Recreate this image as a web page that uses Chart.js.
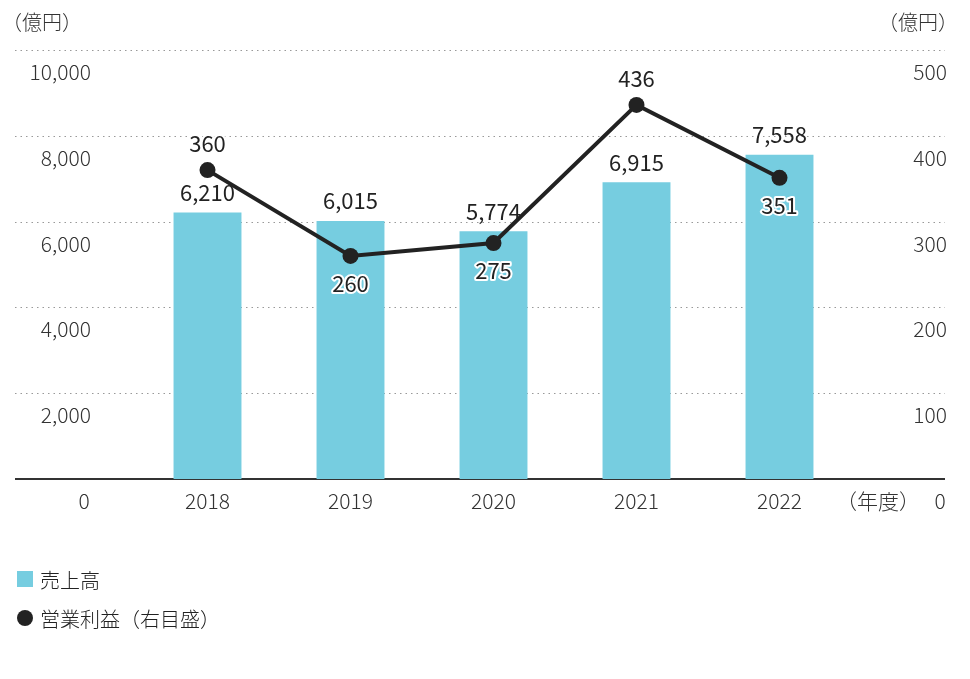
<!DOCTYPE html>
<html>
<head>
<meta charset="utf-8">
<script src="https://cdn.jsdelivr.net/npm/chart.js@4/dist/chart.umd.min.js"></script>
<style>body{margin:0;background:#fff}</style>
</head>
<body>
<canvas id="chartArea" width="970" height="679"></canvas>
<script>
const years = ['2018', '2019', '2020', '2021', '2022'];
const sales = [6210, 6015, 5774, 6915, 7558];
const profit = [360, 260, 275, 436, 351];
const profitLabelAbove = [true, false, false, true, false];
const leftTicks = [0, 2000, 4000, 6000, 8000, 10000];
const rightTicks = [0, 100, 200, 300, 400, 500];

const FONT = '"Noto Sans CJK JP", "Noto Sans", sans-serif';

// gridlines, tick labels, value labels, legend
const decor = {
  id: 'decor',
  beforeDatasetsDraw(chart) {
    const c = chart.ctx, y = chart.scales.y, y1 = chart.scales.y1;
    c.save();
    c.strokeStyle = '#999';
    c.lineWidth = 1.2;
    c.setLineDash([1.5, 4]);
    for (const v of leftTicks.slice(1)) {
      const py = Math.round(y.getPixelForValue(v)) + 0.5;
      c.beginPath(); c.moveTo(15, py); c.lineTo(945, py); c.stroke();
    }
    c.setLineDash([]);
    c.strokeStyle = '#333';
    c.lineWidth = 2;
    const py0 = y.getPixelForValue(0);
    c.beginPath(); c.moveTo(15, py0); c.lineTo(945, py0); c.stroke();
    c.restore();
  },
  afterDatasetsDraw(chart) {
    const c = chart.ctx, x = chart.scales.x, y = chart.scales.y, y1 = chart.scales.y1;
    c.save();
    c.fillStyle = '#333';
    c.font = '300 21px ' + FONT;
    c.textBaseline = 'middle';
    c.textAlign = 'right';
    leftTicks.forEach(v => {
      if (v === 0) return;
      c.fillText(v.toLocaleString('en-US'), 91, y.getPixelForValue(v) + 22);
    });
    rightTicks.forEach(v => {
      if (v === 0) return;
      c.fillText(String(v), 947, y1.getPixelForValue(v) + 22);
    });
    const ly = y.getPixelForValue(0) + 22;
    c.textAlign = 'center';
    c.fillText('0', 84, ly);
    c.fillText('0', 940, ly);
    years.forEach((t, i) => c.fillText(t, x.getPixelForValue(i), ly));
    c.fillText('（年度）', 878, ly);
    c.font = '300 20px ' + FONT;
    c.textAlign = 'left';
    c.fillText('（億円）', 2, 22);
    c.textAlign = 'right';
    c.fillText('（億円）', 958, 22);

    // values
    c.font = '400 22px ' + FONT;
    c.textAlign = 'center';
    c.fillStyle = '#222';
    sales.forEach((v, i) => {
      c.fillText(v.toLocaleString('en-US'), x.getPixelForValue(i), y.getPixelForValue(v) - 20);
    });
    c.lineJoin = 'round';
    profit.forEach((v, i) => {
      const px = x.getPixelForValue(i);
      const py = y1.getPixelForValue(v) + (profitLabelAbove[i] ? -26 : 28);
      c.strokeStyle = '#fff'; c.lineWidth = 4;
      c.strokeText(String(v), px, py);
      c.fillText(String(v), px, py);
    });

    // legend
    c.font = '300 20px ' + FONT;
    c.textAlign = 'left';
    c.fillStyle = '#76cde0';
    c.fillRect(17, 571, 16, 16);
    c.fillStyle = '#222';
    c.fillText('売上高', 40, 580);
    c.beginPath(); c.arc(25, 618, 8, 0, Math.PI * 2); c.fill();
    c.fillText('営業利益（右目盛）', 40, 619);
    c.restore();
  }
};

new Chart(document.getElementById('chartArea'), {
  data: {
    labels: years,
    datasets: [
      {
        type: 'line',
        data: profit,
        yAxisID: 'y1',
        borderColor: '#222',
        borderWidth: 4,
        pointRadius: 8,
        pointBackgroundColor: '#222',
        pointBorderWidth: 0,
        order: 0
      },
      {
        type: 'bar',
        data: sales,
        yAxisID: 'y',
        backgroundColor: '#76cde0',
        barPercentage: 0.475,
        categoryPercentage: 1,
        order: 1
      }
    ]
  },
  options: {
    responsive: false,
    animation: false,
    layout: { padding: { left: 136, right: 119, top: 50, bottom: 200 } },
    plugins: { legend: { display: false }, tooltip: { enabled: false } },
    scales: {
      x: { display: false },
      y: { display: false, min: 0, max: 10000 },
      y1: { display: false, min: 0, max: 500 }
    }
  },
  plugins: [decor]
});
</script>
</body>
</html>
